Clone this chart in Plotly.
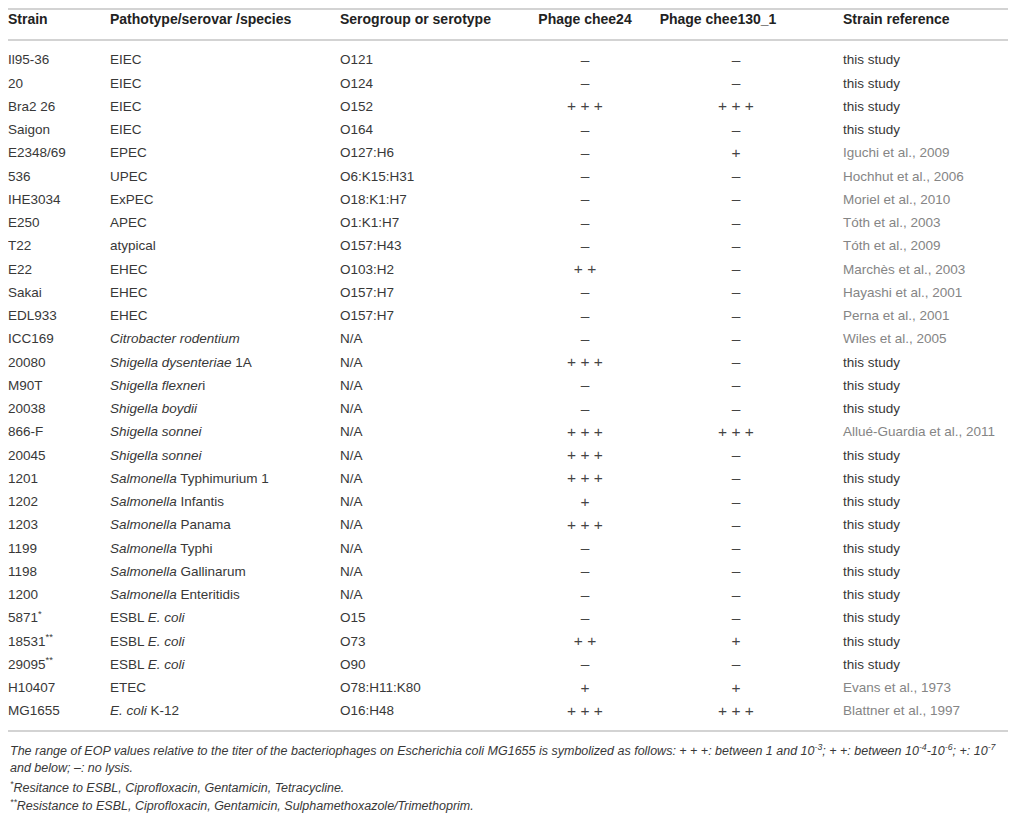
import plotly.graph_objects as go

W, H = 1016, 816
PAGE_MARGIN = 8  # browser body margin around the plotly div

headers = ["Strain", "Pathotype/serovar /species", "Serogroup or serotype",
           "Phage chee24", "Phage chee130_1", "Strain reference"]

strains = ["Il95-36", "20", "Bra2 26", "Saigon", "E2348/69", "536", "IHE3034", "E250",
           "T22", "E22", "Sakai", "EDL933", "ICC169", "20080", "M90T", "20038", "866-F",
           "20045", "1201", "1202", "1203", "1199", "1198", "1200", "5871<sup>*</sup>",
           "18531<sup>**</sup>", "29095<sup>**</sup>", "H10407", "MG1655"]

pathotypes = ["EIEC", "EIEC", "EIEC", "EIEC", "EPEC", "UPEC", "ExPEC", "APEC", "atypical",
              "EHEC", "EHEC", "EHEC", "<i>Citrobacter rodentium</i>",
              "<i>Shigella dysenteriae</i> 1A", "<i>Shigella flexner</i>i",
              "<i>Shigella boydii</i>", "<i>Shigella sonnei</i>", "<i>Shigella sonnei</i>",
              "<i>Salmonella</i> Typhimurium 1", "<i>Salmonella</i> Infantis",
              "<i>Salmonella</i> Panama", "<i>Salmonella</i> Typhi",
              "<i>Salmonella</i> Gallinarum", "<i>Salmonella</i> Enteritidis",
              "ESBL <i>E. coli</i>", "ESBL <i>E. coli</i>", "ESBL <i>E. coli</i>", "ETEC",
              "<i>E. coli</i> K-12"]

serogroups = ["O121", "O124", "O152", "O164", "O127:H6", "O6:K15:H31", "O18:K1:H7",
              "O1:K1:H7", "O157:H43", "O103:H2", "O157:H7", "O157:H7"] + ["N/A"] * 12 + \
             ["O15", "O73", "O90", "O78:H11:K80", "O16:H48"]

chee24 = ["-", "-", "+++", "-", "-", "-", "-", "-", "-", "++", "-", "-", "-", "+++", "-",
          "-", "+++", "+++", "+++", "+", "+++", "-", "-", "-", "-", "++", "-", "+", "+++"]

chee130 = ["-", "-", "+++", "-", "+", "-", "-", "-", "-", "-", "-", "-", "-", "-", "-",
           "-", "+++", "-", "-", "-", "-", "-", "-", "-", "-", "+", "-", "+", "+++"]

references = ["this study"] * 4 + [
    "Iguchi et al., 2009", "Hochhut et al., 2006", "Moriel et al., 2010",
    "Tóth et al., 2003", "Tóth et al., 2009", "Marchès et al., 2003",
    "Hayashi et al., 2001", "Perna et al., 2001", "Wiles et al., 2005",
    "this study", "this study", "this study", "Allué-Guardia et al., 2011"] + \
    ["this study"] * 10 + ["Evans et al., 1973", "Blattner et al., 1997"]

footnotes = [
    "The range of EOP values relative to the titer of the bacteriophages on Escherichia coli "
    "MG1655 is symbolized as follows: + + +: between 1 and 10<sup>-3</sup>; + +: between "
    "10<sup>-4</sup>-10<sup>-6</sup>; +: 10<sup>-7</sup>",
    "and below; \u2013: no lysis.",
    "<sup>*</sup>Resitance to ESBL, Ciprofloxacin, Gentamicin, Tetracycline.",
    "<sup>**</sup>Resistance to ESBL, Ciprofloxacin, Gentamicin, Sulphamethoxazole/Trimethoprim.",
]


def sym(s):
    # EOP symbols: spaced plus signs, en dash for no lysis
    return "\u2013" if s == "-" else " ".join(s)


# layout in page pixels
col_x = [8, 110, 340, 585, 736, 843]
head_x = [8, 110, 340, 585, 718, 843]
row0, row_h = 61, 23.25
header_y = 20
rows_y = [row0 + row_h * i for i in range(len(strains))]
font = "Liberation Sans, Arial, sans-serif"
txt = "#383838"

fig = go.Figure()

fig.add_trace(go.Scatter(
    x=head_x, y=[header_y] * 6, mode="text", text=[f"<b>{h}</b>" for h in headers],
    textposition=["middle right"] * 3 + ["middle center"] * 2 + ["middle right"],
    textfont=dict(family=font, size=14, color="#222"), hoverinfo="skip"))

for cx, col in zip(col_x[:3], [strains, pathotypes, serogroups]):
    fig.add_trace(go.Scatter(
        x=[cx] * len(col), y=rows_y, mode="text", text=col, textposition="middle right",
        textfont=dict(family=font, size=13.5, color=txt), hoverinfo="skip"))

for cx, col in zip(col_x[3:5], [chee24, chee130]):
    fig.add_trace(go.Scatter(
        x=[cx] * len(col), y=rows_y, mode="text", text=[sym(s) for s in col],
        textposition="middle center",
        textfont=dict(family=font, size=15.5, color="#444"), hoverinfo="skip"))

fig.add_trace(go.Scatter(
    x=[col_x[5]] * len(references), y=rows_y, mode="text", text=references,
    textposition="middle right",
    textfont=dict(family=font, size=13.5,
                  color=[txt if r == "this study" else "#858585" for r in references]),
    hoverinfo="skip"))

# horizontal rules
for yy in [9, 40, rows_y[-1] + 19]:
    fig.add_shape(type="line", x0=0, x1=W, y0=yy, y1=yy, xref="x", yref="y",
                  line=dict(color="#c4c4c4", width=1.6))

foot_y = rows_y[-1] + 38
for i, fn in enumerate(footnotes):
    fig.add_annotation(x=col_x[0], y=foot_y + 18.3 * i, xref="x", yref="y",
                       text=f"<i>{fn}</i>", showarrow=False, xanchor="left",
                       yanchor="middle", font=dict(family=font, size=12.5, color=txt))

fig.update_layout(
    width=W - PAGE_MARGIN, height=H - PAGE_MARGIN, margin=dict(l=0, r=0, t=0, b=0),
    paper_bgcolor="white", plot_bgcolor="white", showlegend=False,
    xaxis=dict(range=[PAGE_MARGIN, W], visible=False, fixedrange=True),
    yaxis=dict(range=[H, PAGE_MARGIN], visible=False, fixedrange=True),
)

fig.write_html("out.html")
